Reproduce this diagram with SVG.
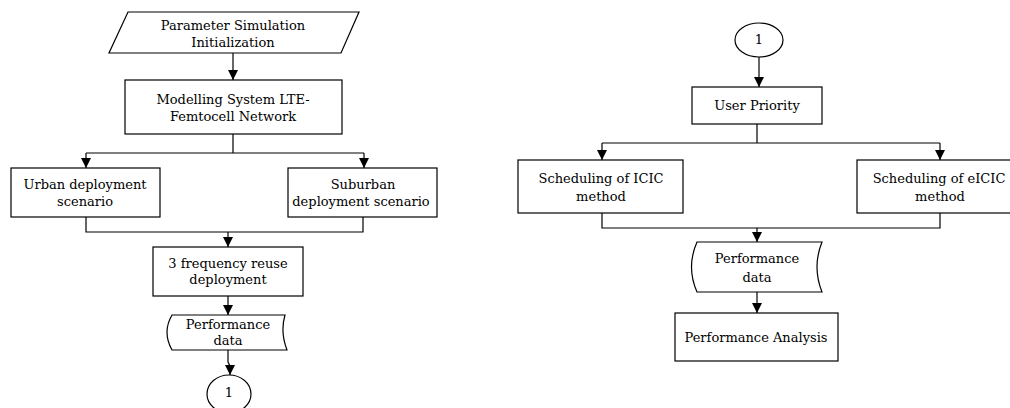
<svg xmlns="http://www.w3.org/2000/svg" width="1010" height="408" viewBox="0 0 1010 408">
<defs>
<marker id="ah" viewBox="0 0 10 10" refX="10" refY="5" markerWidth="11" markerHeight="10" markerUnits="userSpaceOnUse" orient="auto">
<path d="M0,0 L10,5 L0,10 z" fill="#000"/>
</marker>
<style>
.s{fill:#fff;stroke:#000;stroke-width:1.2}
.t{font-family:"DejaVu Serif","Liberation Serif",serif;font-size:13px;fill:#000;text-anchor:middle;dominant-baseline:central}
.c{fill:none;stroke:#000;stroke-width:1.2}
.a{fill:none;stroke:#000;stroke-width:1.2;marker-end:url(#ah)}
</style>
</defs>
<rect width="1010" height="408" fill="#fff"/>
<g id="connectors">
<path class="a" d="M233,53 V80"/>
<path class="c" d="M233,134 V153 M86,153 H364"/>
<path class="a" d="M86,153 V168"/>
<path class="a" d="M364,153 V168"/>
<path class="c" d="M86,217 V232 H363 V217"/>
<path class="a" d="M228,232 V247"/>
<path class="a" d="M228,296 V315"/>
<path class="a" d="M228,350 V362 L230,366 V375"/>
<path class="a" d="M759,57 V87"/>
<path class="c" d="M757,124 V143 M602,143 H940"/>
<path class="a" d="M602,143 V160"/>
<path class="a" d="M940,143 V160"/>
<path class="c" d="M602,213 V228 H940 V213"/>
<path class="a" d="M757,228 V242"/>
<path class="a" d="M757,292 V313"/>
</g>
<g id="n-param">
<path class="s" d="M128,12 H359 L341,53 H109 Z"/>
<text class="t" x="233" y="25">Parameter Simulation</text>
<text class="t" x="233" y="42">Initialization</text>
</g>
<g id="n-model">
<rect class="s" x="125" y="80" width="217" height="54"/>
<text class="t" x="233" y="99">Modelling System LTE-</text>
<text class="t" x="233" y="116">Femtocell Network</text>
</g>
<g id="n-urban">
<rect class="s" x="11" y="168" width="149" height="49"/>
<text class="t" x="85" y="184">Urban deployment</text>
<text class="t" x="85" y="201">scenario</text>
</g>
<g id="n-suburban">
<rect class="s" x="288" y="168" width="149" height="49"/>
<text class="t" x="363" y="184">Suburban</text>
<text class="t" x="361" y="201">deployment scenario</text>
</g>
<g id="n-freq">
<rect class="s" x="153" y="247" width="150" height="49"/>
<text class="t" x="228" y="263">3 frequency reuse</text>
<text class="t" x="228" y="279">deployment</text>
</g>
<g id="n-perf1">
<path class="s" d="M172,315 H285 Q280,332 287,350 H172 Q162,332 172,315 Z"/>
<text class="t" x="228" y="324">Performance</text>
<text class="t" x="228" y="340">data</text>
</g>
<g id="n-conn1">
<ellipse class="s" cx="229" cy="394" rx="22" ry="19"/>
<text class="t" x="229" y="392">1</text>
</g>
<g id="n-conn2">
<ellipse class="s" cx="759" cy="40" rx="24" ry="17"/>
<text class="t" x="759" y="39">1</text>
</g>
<g id="n-user">
<rect class="s" x="692" y="87" width="130" height="37"/>
<text class="t" x="757" y="105">User Priority</text>
</g>
<g id="n-icic">
<rect class="s" x="518" y="160" width="165" height="53"/>
<text class="t" x="601" y="178">Scheduling of ICIC</text>
<text class="t" x="601" y="196">method</text>
</g>
<g id="n-eicic">
<rect class="s" x="857" y="160" width="166" height="53"/>
<text class="t" x="939" y="178">Scheduling of eICIC</text>
<text class="t" x="940" y="196">method</text>
</g>
<g id="n-perf2">
<path class="s" d="M697,242 H822 Q812,267 822,292 H697 Q686,267 697,242 Z"/>
<text class="t" x="757" y="258">Performance</text>
<text class="t" x="757" y="277">data</text>
</g>
<g id="n-analysis">
<rect class="s" x="675" y="313" width="163" height="48"/>
<text class="t" x="756" y="337">Performance Analysis</text>
</g>
</svg>
